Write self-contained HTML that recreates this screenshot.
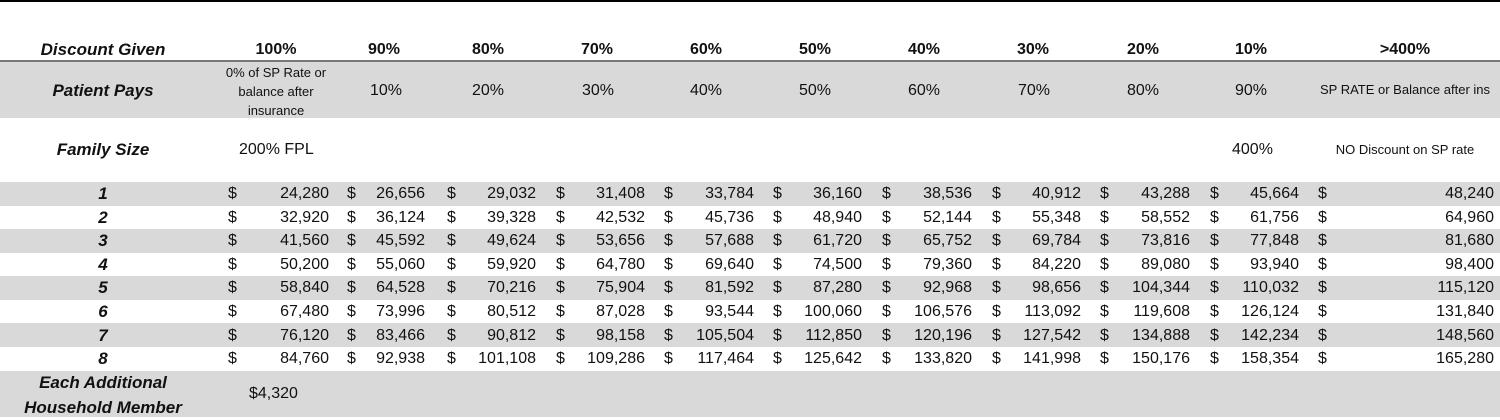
<!DOCTYPE html>
<html><head><style>
body{margin:0;width:1500px;height:417px;position:relative;background:#fff;font-family:"Liberation Sans",sans-serif;color:#111;overflow:hidden}
.a{position:absolute;white-space:nowrap}
.g{position:absolute;left:0;width:1500px;background:#d9d9d9}
.r{position:absolute;height:24px;line-height:24px;font-size:16px;width:1500px;left:0}
.r span{position:absolute}
.lb{font-weight:bold;font-style:italic;width:206px;text-align:center;left:0;font-size:17px}
.v{text-align:right;width:100px}
.h{font-weight:bold;font-size:16px}
.hl{font-size:17px}
</style></head><body>
<div class="a" style="left:0;top:0;width:1500px;height:2px;background:#000"></div>
<div class="g" style="top:62px;height:56px"></div>
<div class="a" style="left:0;top:60px;width:1500px;height:2px;background:#777"></div>
<div class="g" style="top:182px;height:24px"></div>
<div class="g" style="top:229px;height:24px"></div>
<div class="g" style="top:276px;height:24px"></div>
<div class="g" style="top:323px;height:24px"></div>
<div class="g" style="top:371px;height:46px"></div>

<div class="a h hl" style="left:0;width:206px;text-align:center;top:40px;font-style:italic">Discount Given</div>
<div class="a h" style="left:226px;width:100px;text-align:center;top:41px">100%</div>
<div class="a h" style="left:368px;top:41px">90%</div>
<div class="a h" style="left:472px;top:41px">80%</div>
<div class="a h" style="left:581px;top:41px">70%</div>
<div class="a h" style="left:690px;top:41px">60%</div>
<div class="a h" style="left:799px;top:41px">50%</div>
<div class="a h" style="left:908px;top:41px">40%</div>
<div class="a h" style="left:1017px;top:41px">30%</div>
<div class="a h" style="left:1127px;top:41px">20%</div>
<div class="a h" style="left:1235px;top:41px">10%</div>
<div class="a h" style="left:1355px;width:100px;text-align:center;top:41px">&gt;400%</div>

<div class="a h hl" style="left:0;width:206px;text-align:center;top:81px;font-style:italic">Patient Pays</div>
<div class="a" style="left:216px;width:120px;text-align:center;top:63px;font-size:13px;line-height:19px">0% of SP Rate or<br>balance after<br>insurance</div>
<div class="a" style="left:370px;top:82px;font-size:16px">10%</div>
<div class="a" style="left:472px;top:82px;font-size:16px">20%</div>
<div class="a" style="left:582px;top:82px;font-size:16px">30%</div>
<div class="a" style="left:690px;top:82px;font-size:16px">40%</div>
<div class="a" style="left:799px;top:82px;font-size:16px">50%</div>
<div class="a" style="left:908px;top:82px;font-size:16px">60%</div>
<div class="a" style="left:1018px;top:82px;font-size:16px">70%</div>
<div class="a" style="left:1127px;top:82px;font-size:16px">80%</div>
<div class="a" style="left:1235px;top:82px;font-size:16px">90%</div>
<div class="a" style="left:1310px;width:190px;text-align:center;top:82px;font-size:13px">SP RATE or Balance after ins</div>

<div class="a h hl" style="left:0;width:206px;text-align:center;top:140px;font-style:italic">Family Size</div>
<div class="a" style="left:239px;top:141px;font-size:16px">200% FPL</div>
<div class="a" style="left:1232px;top:141px;font-size:16px">400%</div>
<div class="a" style="left:1310px;width:190px;text-align:center;top:142px;font-size:13px">NO Discount on SP rate</div>

<div class="r" style="top:182px"><span class="lb">1</span><span style="left:228px">$</span><span class="v" style="left:229px">24,280</span><span style="left:347px">$</span><span class="v" style="left:325px">26,656</span><span style="left:447px">$</span><span class="v" style="left:436px">29,032</span><span style="left:556px">$</span><span class="v" style="left:545px">31,408</span><span style="left:664px">$</span><span class="v" style="left:654px">33,784</span><span style="left:773px">$</span><span class="v" style="left:762px">36,160</span><span style="left:882px">$</span><span class="v" style="left:872px">38,536</span><span style="left:992px">$</span><span class="v" style="left:981px">40,912</span><span style="left:1100px">$</span><span class="v" style="left:1090px">43,288</span><span style="left:1210px">$</span><span class="v" style="left:1199px">45,664</span><span style="left:1318px">$</span><span class="v" style="left:1394px">48,240</span></div>
<div class="r" style="top:205.6px"><span class="lb">2</span><span style="left:228px">$</span><span class="v" style="left:229px">32,920</span><span style="left:347px">$</span><span class="v" style="left:325px">36,124</span><span style="left:447px">$</span><span class="v" style="left:436px">39,328</span><span style="left:556px">$</span><span class="v" style="left:545px">42,532</span><span style="left:664px">$</span><span class="v" style="left:654px">45,736</span><span style="left:773px">$</span><span class="v" style="left:762px">48,940</span><span style="left:882px">$</span><span class="v" style="left:872px">52,144</span><span style="left:992px">$</span><span class="v" style="left:981px">55,348</span><span style="left:1100px">$</span><span class="v" style="left:1090px">58,552</span><span style="left:1210px">$</span><span class="v" style="left:1199px">61,756</span><span style="left:1318px">$</span><span class="v" style="left:1394px">64,960</span></div>
<div class="r" style="top:229.2px"><span class="lb">3</span><span style="left:228px">$</span><span class="v" style="left:229px">41,560</span><span style="left:347px">$</span><span class="v" style="left:325px">45,592</span><span style="left:447px">$</span><span class="v" style="left:436px">49,624</span><span style="left:556px">$</span><span class="v" style="left:545px">53,656</span><span style="left:664px">$</span><span class="v" style="left:654px">57,688</span><span style="left:773px">$</span><span class="v" style="left:762px">61,720</span><span style="left:882px">$</span><span class="v" style="left:872px">65,752</span><span style="left:992px">$</span><span class="v" style="left:981px">69,784</span><span style="left:1100px">$</span><span class="v" style="left:1090px">73,816</span><span style="left:1210px">$</span><span class="v" style="left:1199px">77,848</span><span style="left:1318px">$</span><span class="v" style="left:1394px">81,680</span></div>
<div class="r" style="top:252.8px"><span class="lb">4</span><span style="left:228px">$</span><span class="v" style="left:229px">50,200</span><span style="left:347px">$</span><span class="v" style="left:325px">55,060</span><span style="left:447px">$</span><span class="v" style="left:436px">59,920</span><span style="left:556px">$</span><span class="v" style="left:545px">64,780</span><span style="left:664px">$</span><span class="v" style="left:654px">69,640</span><span style="left:773px">$</span><span class="v" style="left:762px">74,500</span><span style="left:882px">$</span><span class="v" style="left:872px">79,360</span><span style="left:992px">$</span><span class="v" style="left:981px">84,220</span><span style="left:1100px">$</span><span class="v" style="left:1090px">89,080</span><span style="left:1210px">$</span><span class="v" style="left:1199px">93,940</span><span style="left:1318px">$</span><span class="v" style="left:1394px">98,400</span></div>
<div class="r" style="top:276.4px"><span class="lb">5</span><span style="left:228px">$</span><span class="v" style="left:229px">58,840</span><span style="left:347px">$</span><span class="v" style="left:325px">64,528</span><span style="left:447px">$</span><span class="v" style="left:436px">70,216</span><span style="left:556px">$</span><span class="v" style="left:545px">75,904</span><span style="left:664px">$</span><span class="v" style="left:654px">81,592</span><span style="left:773px">$</span><span class="v" style="left:762px">87,280</span><span style="left:882px">$</span><span class="v" style="left:872px">92,968</span><span style="left:992px">$</span><span class="v" style="left:981px">98,656</span><span style="left:1100px">$</span><span class="v" style="left:1090px">104,344</span><span style="left:1210px">$</span><span class="v" style="left:1199px">110,032</span><span style="left:1318px">$</span><span class="v" style="left:1394px">115,120</span></div>
<div class="r" style="top:300px"><span class="lb">6</span><span style="left:228px">$</span><span class="v" style="left:229px">67,480</span><span style="left:347px">$</span><span class="v" style="left:325px">73,996</span><span style="left:447px">$</span><span class="v" style="left:436px">80,512</span><span style="left:556px">$</span><span class="v" style="left:545px">87,028</span><span style="left:664px">$</span><span class="v" style="left:654px">93,544</span><span style="left:773px">$</span><span class="v" style="left:762px">100,060</span><span style="left:882px">$</span><span class="v" style="left:872px">106,576</span><span style="left:992px">$</span><span class="v" style="left:981px">113,092</span><span style="left:1100px">$</span><span class="v" style="left:1090px">119,608</span><span style="left:1210px">$</span><span class="v" style="left:1199px">126,124</span><span style="left:1318px">$</span><span class="v" style="left:1394px">131,840</span></div>
<div class="r" style="top:323.6px"><span class="lb">7</span><span style="left:228px">$</span><span class="v" style="left:229px">76,120</span><span style="left:347px">$</span><span class="v" style="left:325px">83,466</span><span style="left:447px">$</span><span class="v" style="left:436px">90,812</span><span style="left:556px">$</span><span class="v" style="left:545px">98,158</span><span style="left:664px">$</span><span class="v" style="left:654px">105,504</span><span style="left:773px">$</span><span class="v" style="left:762px">112,850</span><span style="left:882px">$</span><span class="v" style="left:872px">120,196</span><span style="left:992px">$</span><span class="v" style="left:981px">127,542</span><span style="left:1100px">$</span><span class="v" style="left:1090px">134,888</span><span style="left:1210px">$</span><span class="v" style="left:1199px">142,234</span><span style="left:1318px">$</span><span class="v" style="left:1394px">148,560</span></div>
<div class="r" style="top:347.2px"><span class="lb">8</span><span style="left:228px">$</span><span class="v" style="left:229px">84,760</span><span style="left:347px">$</span><span class="v" style="left:325px">92,938</span><span style="left:447px">$</span><span class="v" style="left:436px">101,108</span><span style="left:556px">$</span><span class="v" style="left:545px">109,286</span><span style="left:664px">$</span><span class="v" style="left:654px">117,464</span><span style="left:773px">$</span><span class="v" style="left:762px">125,642</span><span style="left:882px">$</span><span class="v" style="left:872px">133,820</span><span style="left:992px">$</span><span class="v" style="left:981px">141,998</span><span style="left:1100px">$</span><span class="v" style="left:1090px">150,176</span><span style="left:1210px">$</span><span class="v" style="left:1199px">158,354</span><span style="left:1318px">$</span><span class="v" style="left:1394px">165,280</span></div>

<div class="a h hl" style="left:0;width:206px;text-align:center;top:370px;font-style:italic;line-height:25px">Each Additional<br>Household Member</div>
<div class="a" style="left:249px;top:385px;font-size:16px">$4,320</div>
</body></html>
